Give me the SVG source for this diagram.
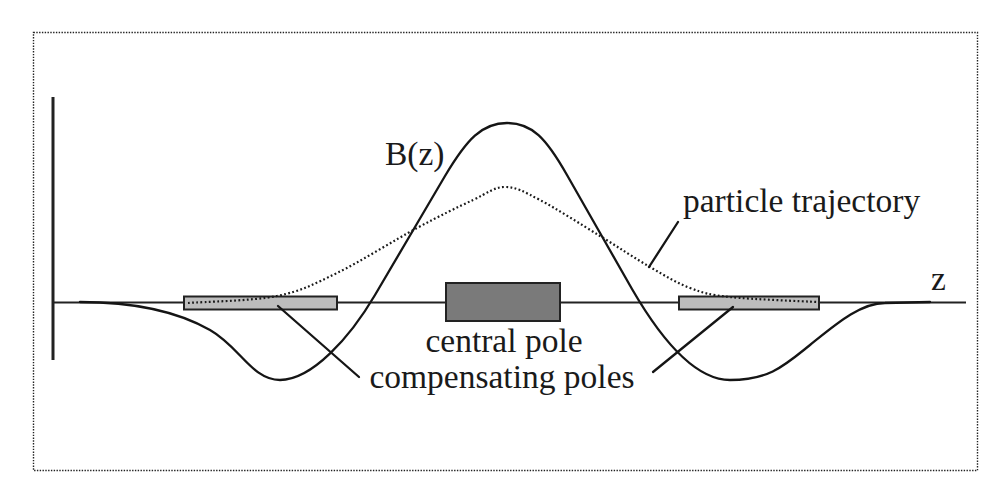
<svg xmlns="http://www.w3.org/2000/svg" width="998" height="493" viewBox="0 0 998 493">
<style>
.lbl{font-family:"Liberation Serif","Times New Roman",serif;font-size:33.5px;fill:#1a1a1a}
.ln{fill:none;stroke:#151515;stroke-width:2.3;stroke-linecap:round;stroke-linejoin:round}
.dot{fill:none;stroke:#1a1a1a;stroke-width:2.2;stroke-dasharray:1.8 2.4}
.comp{fill:#bdbdbd;stroke:#222;stroke-width:2}
</style>
<rect x="0" y="0" width="998" height="493" fill="#fff"/>
<rect id="frame" x="33.5" y="32.5" width="944" height="438" fill="none" stroke="#222" stroke-width="1.4" stroke-dasharray="1.4 1.4"/>
<g id="axes">
<line x1="53" y1="97" x2="53" y2="360" stroke="#222" stroke-width="3"/>
<line x1="53" y1="302.5" x2="966" y2="302.5" stroke="#222" stroke-width="2"/>
</g>
<g id="left-compensating-pole"><rect class="comp" x="184" y="296.5" width="153" height="13"/></g>
<g id="right-compensating-pole"><rect class="comp" x="679" y="296.5" width="140" height="13"/></g>
<g id="central-pole"><rect x="446" y="283" width="114" height="38" fill="#7a7a7a" stroke="#222" stroke-width="2"/></g>
<g id="bz-curve">
<path class="ln" d="M80,302 C140,302 180,313 210,330 C240,347 252,380 280,380 C312,380 350,337.5 375,295 C398,256 422,215 445,176 C467,139 482,123 507,123 C532,123 546,138 567,175 C589,213 610,251 632,289 C654,327 690,380 730,380 C770,380 785,365 810,345 C835,325 860,303 885,303 L930,302"/>
</g>
<g id="particle-trajectory">
<path class="dot" d="M188,303 C202.8,301.8 252.2,301 277,296 C301.8,291 313.7,284.3 337,273 C360.3,261.7 394.3,240.2 417,228 C439.7,215.8 458.3,206.8 473,200 C487.7,193.2 493.8,187 505,187 C516.2,187 524.2,191.8 540,200 C555.8,208.2 581.7,224.8 600,236 C618.3,247.2 635,258.3 650,267 C665,275.7 676.7,283 690,288 C703.3,293 708.8,294.7 730,297 C751.2,299.3 802.5,301.2 817,302"/>
</g>
<g id="connectors">
<line class="ln" x1="278" y1="306" x2="359" y2="377"/>
<line class="ln" x1="733" y1="307" x2="653" y2="372"/>
<line class="ln" x1="678" y1="222" x2="649" y2="267"/>
</g>
<g id="labels">
<text class="lbl" x="385" y="165">B(z)</text>
<text class="lbl" x="683" y="212">particle trajectory</text>
<text class="lbl" x="504" y="352" text-anchor="middle">central pole</text>
<text class="lbl" x="502" y="388" text-anchor="middle">compensating poles</text>
<text class="lbl" x="931" y="290">z</text>
</g>
</svg>
